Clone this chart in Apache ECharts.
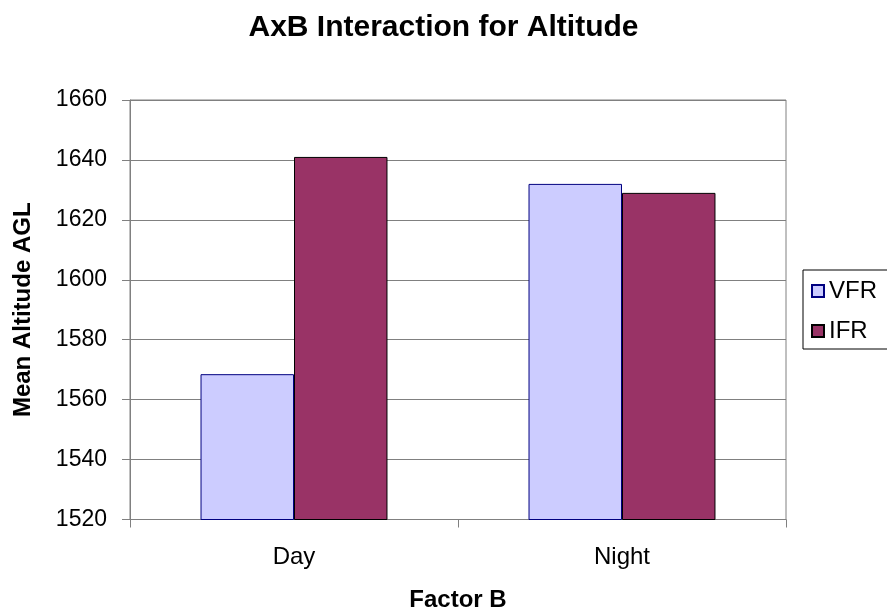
<!DOCTYPE html>
<html>
<head>
<meta charset="utf-8">
<script src="https://cdn.jsdelivr.net/npm/echarts@6/dist/echarts.min.js"></script>
<style>
  html, body { margin: 0; padding: 0; background: #fff; }
  #chart { width: 887px; height: 612px; }
</style>
</head>
<body>
<div id="chart"></div>
<script>
// Factor B levels and mean altitude per flight rule condition
const categories = ['Day', 'Night'];
const vfrValues = [1568.5, 1632];
const ifrValues = [1641, 1629];
const seriesNames = ['VFR', 'IFR'];

const FONT = '"Liberation Sans", Arial, sans-serif';
const chart = echarts.init(document.getElementById('chart'), null, { renderer: 'canvas' });

chart.setOption({
  backgroundColor: '#ffffff',
  animation: false,
  textStyle: { fontFamily: FONT, color: '#000' },
  title: {
    text: 'AxB Interaction for Altitude',
    left: 'center',
    top: 8,
    textStyle: { fontFamily: FONT, fontSize: 30, fontWeight: 'bold', color: '#000' }
  },
  legend: {
    orient: 'vertical',
    left: 803,
    top: 270,
    padding: [9, 30, 6, 8],
    itemGap: 16,
    itemWidth: 12,
    itemHeight: 12,
    icon: 'rect',
    borderColor: '#000',
    borderWidth: 1,
    textStyle: { fontFamily: FONT, fontSize: 24, color: '#000' },
    data: seriesNames
  },
  grid: {
    left: 130,
    right: 101,
    top: 100,
    bottom: 92.5,
    show: true,
    borderColor: '#808080',
    borderWidth: 1,
    containLabel: false,
    outerBoundsMode: 'none'
  },
  xAxis: {
    type: 'category',
    data: categories,
    name: 'Factor B',
    nameLocation: 'middle',
    nameGap: 69,
    nameTextStyle: { fontFamily: FONT, fontSize: 24, fontWeight: 'bold', color: '#000' },
    axisLine: { show: true, lineStyle: { color: '#808080', width: 1 } },
    axisTick: { show: true, length: 8, alignWithLabel: false, lineStyle: { color: '#808080' } },
    axisLabel: { fontFamily: FONT, fontSize: 24, color: '#000', margin: 26 },
    splitLine: { show: false }
  },
  yAxis: {
    type: 'value',
    min: 1520,
    max: 1660,
    interval: 20,
    name: 'Mean Altitude AGL',
    nameLocation: 'middle',
    nameGap: 95,
    nameTextStyle: { fontFamily: FONT, fontSize: 24, fontWeight: 'bold', color: '#000' },
    axisLine: { show: true, lineStyle: { color: '#808080', width: 1 } },
    axisTick: { show: true, length: 8, inside: false, lineStyle: { color: '#808080' } },
    axisLabel: {
      fontFamily: FONT, fontSize: 23, color: '#000', margin: 23,
      formatter: function (v) { return String(v); }
    },
    splitLine: { show: true, lineStyle: { color: '#808080', width: 1 } }
  },
  series: [
    {
      name: seriesNames[0],
      type: 'bar',
      data: vfrValues,
      barGap: '0%',
      barCategoryGap: '43%',
      itemStyle: { color: '#CCCCFF', borderColor: '#000080', borderWidth: 1 }
    },
    {
      name: seriesNames[1],
      type: 'bar',
      data: ifrValues,
      barGap: '0%',
      barCategoryGap: '43%',
      itemStyle: { color: '#993366', borderColor: '#000000', borderWidth: 1 }
    }
  ]
});
</script>
</body>
</html>
